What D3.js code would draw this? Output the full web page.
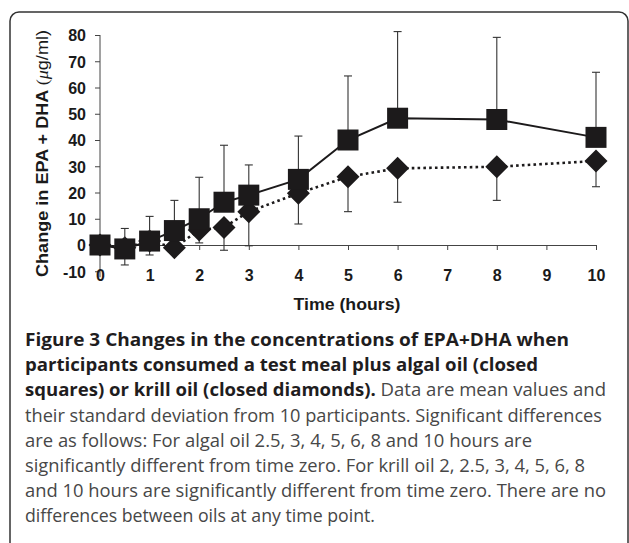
<!DOCTYPE html>
<html lang="en">
<head>
    <meta charset="UTF-8">
    <title>Figure 3 - EPA+DHA</title>
    <script src="https://d3js.org/d3.v7.min.js"></script>
    <style>
        body { margin: 0; background: #fff; }
        .tick text { font: bold 16px "Liberation Sans", Arial, sans-serif; fill: #1a1a1a; }
        .caption { font-family: "Open Sans", sans-serif; font-size: 18px; }
    </style>
</head>
<body>
    <svg width="629" height="543"></svg>
    <script>
        // time points (hours)
        const times = [0, 0.5, 1, 1.5, 2, 2.5, 3, 4, 5, 6, 8, 10];
        // algal oil, closed squares (mean and SD)
        const algal = [0, -1.5, 1.5, 5.5, 10, 16.3, 19, 25, 40, 48.3, 47.8, 41];
        const algalSD = [0, 7.8, 9.4, 11.5, 15.8, 21.7, 11.5, 16.5, 24.4, 33, 31.3, 24.8];
        // krill oil, closed diamonds (mean and SD)
        const krill = [0, -1, 1.5, -1, 5.7, 6.7, 12.7, 19.7, 26, 29.2, 29.8, 32];
        const krillSD = [0, 6.6, 5.3, 0, 4.9, 8.7, 13, 11.7, 13.3, 12.9, 12.8, 9.8];

        const xTicks = [0, 1, 2, 3, 4, 5, 6, 7, 8, 9, 10];
        const yTicks = [-10, 0, 10, 20, 30, 40, 50, 60, 70, 80];

        const captionLines = [
            { bold: "Figure 3 Changes in the concentrations of EPA+DHA when", rest: "", w: 544 },
            { bold: "participants consumed a test meal plus algal oil (closed", rest: "", w: 513 },
            { bold: "squares) or krill oil (closed diamonds).", rest: " Data are mean values and", w: 581 },
            { bold: "", rest: "their standard deviation from 10 participants. Significant differences", w: 577 },
            { bold: "", rest: "are as follows: For algal oil 2.5, 3, 4, 5, 6, 8 and 10 hours are", w: 507 },
            { bold: "", rest: "significantly different from time zero. For krill oil 2, 2.5, 3, 4, 5, 6, 8", w: 560 },
            { bold: "", rest: "and 10 hours are significantly different from time zero. There are no", w: 581 },
            { bold: "", rest: "differences between oils at any time point.", w: 350 }
        ];

        const svg = d3.select("svg");

        // frame round the figure
        svg.append("rect")
            .attr("x", 10).attr("y", 12)
            .attr("width", 618).attr("height", 580)
            .attr("rx", 9)
            .attr("fill", "#fff")
            .attr("stroke", "#333")
            .attr("stroke-width", 1.5);

        const x = d3.scaleLinear().domain([0, 10]).range([100, 596]);
        const y = d3.scaleLinear().domain([-10, 80]).range([271.25, 35]);

        // y axis
        const yAxis = svg.append("g")
            .attr("transform", "translate(100,0)")
            .call(d3.axisLeft(y).tickValues(yTicks).tickSize(5).tickPadding(9).tickFormat(d => String(d)));
        yAxis.selectAll("line, path").attr("stroke", "#444");
        yAxis.select(".domain").attr("d", `M0,${y(80)}V${y(-10) + 6}`);
        yAxis.selectAll(".tick text").attr("dy", "0.36em");

        // x axis sits on zero
        const xAxis = svg.append("g")
            .attr("transform", `translate(0,${y(0)})`)
            .call(d3.axisBottom(x).tickValues(xTicks).tickSize(5).tickSizeOuter(0).tickPadding(20));
        xAxis.selectAll("line, path").attr("stroke", "#444");
        xAxis.selectAll(".tick text").attr("dy", "0.71em");

        // axis titles
        svg.append("text")
            .attr("transform", `translate(48,${(30 + 277) / 2}) rotate(-90)`)
            .attr("text-anchor", "middle")
            .attr("textLength", 247)
            .attr("lengthAdjust", "spacingAndGlyphs")
            .style("font", "bold 16px 'Liberation Sans', Arial, sans-serif")
            .attr("fill", "#1a1a1a")
            .call(t => {
                t.append("tspan").text("Change in EPA + DHA ");
                t.append("tspan").style("font-weight", "normal")
                    .style("font-family", "'Liberation Serif', serif").text("(");
                t.append("tspan").style("font-weight", "normal").style("font-style", "italic")
                    .style("font-family", "'Liberation Serif', serif").text("μ");
                t.append("tspan").style("font-weight", "normal")
                    .style("font-family", "'Liberation Sans', sans-serif").text("g/ml)");
            });

        svg.append("text")
            .attr("x", 347).attr("y", 310)
            .attr("text-anchor", "middle")
            .attr("textLength", 107)
            .attr("lengthAdjust", "spacingAndGlyphs")
            .style("font", "bold 16px 'Liberation Sans', Arial, sans-serif")
            .attr("fill", "#1a1a1a")
            .text("Time (hours)");

        const ink = "#1c1a1b";

        function drawSeries(vals, sd, dir, lineStyle, marker) {
            const pts = times.map((t, i) => ({ t: t, v: vals[i], sd: sd[i] }));
            const g = svg.append("g");

            // error bars, one side only
            const eb = g.selectAll(".eb").data(pts.filter(d => d.sd > 0)).enter().append("g");
            eb.append("line")
                .attr("x1", d => x(d.t)).attr("x2", d => x(d.t))
                .attr("y1", d => y(d.v)).attr("y2", d => y(d.v + dir * d.sd))
                .attr("stroke", "#333").attr("stroke-width", 1.1);
            eb.append("line")
                .attr("x1", d => x(d.t) - 4).attr("x2", d => x(d.t) + 4)
                .attr("y1", d => y(d.v + dir * d.sd)).attr("y2", d => y(d.v + dir * d.sd))
                .attr("stroke", "#333").attr("stroke-width", 1.1);

            const line = d3.line().x(d => x(d.t)).y(d => y(d.v));
            g.append("path")
                .datum(pts)
                .attr("d", line)
                .attr("fill", "none")
                .attr("stroke", ink)
                .attr("stroke-width", lineStyle.width)
                .attr("stroke-dasharray", lineStyle.dash);

            g.selectAll(".mk").data(pts).enter().append("path")
                .attr("d", marker)
                .attr("transform", d => `translate(${x(d.t)},${y(d.v)})`)
                .attr("fill", ink);
        }

        // krill first, squares drawn over it
        drawSeries(krill, krillSD, -1, { width: 2.6, dash: "2.6,3.2" }, "M0,-11.5L11.5,0L0,11.5L-11.5,0Z");
        drawSeries(algal, algalSD, 1, { width: 2, dash: null }, "M-10.5,-10.5H10.5V10.5H-10.5Z");

        // caption
        const cap = svg.append("g").attr("class", "caption");
        captionLines.forEach((ln, i) => {
            const t = cap.append("text")
                .attr("x", 25)
                .attr("y", 346 + i * 25.2)
                .attr("textLength", ln.w)
                .attr("lengthAdjust", "spacingAndGlyphs");
            if (ln.bold) t.append("tspan").attr("font-weight", "bold").attr("fill", "#1f1d1e").text(ln.bold);
            if (ln.rest) t.append("tspan").attr("fill", "#474747").text(ln.rest);
        });
    </script>
</body>
</html>
